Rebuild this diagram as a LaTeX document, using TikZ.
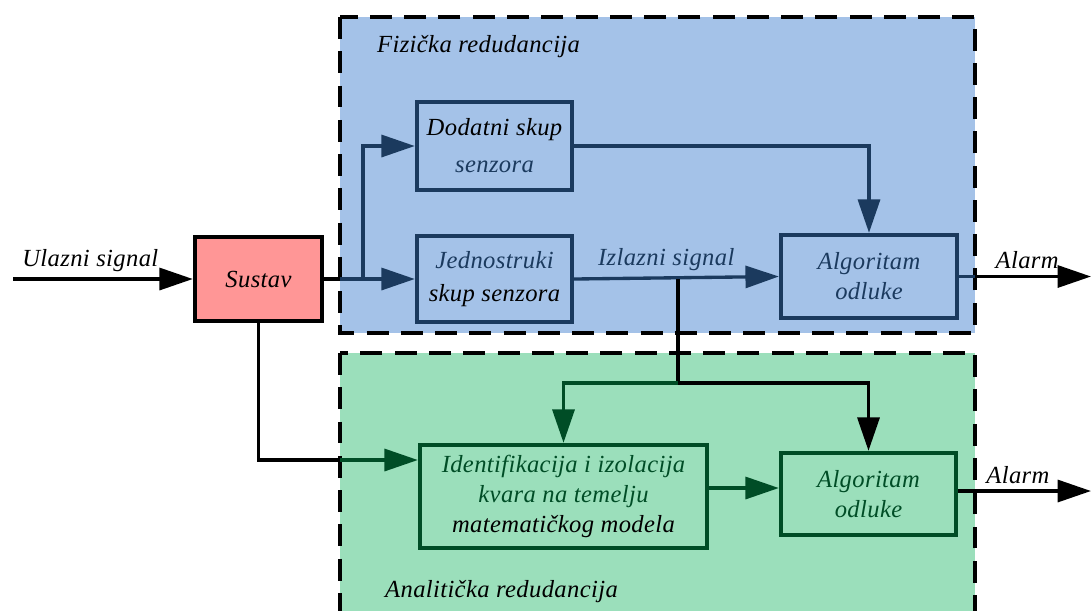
\documentclass[tikz,border=0pt]{standalone}
\usepackage{fontspec}
\setmainfont{Liberation Serif}[LetterSpace=1.5]
\usetikzlibrary{arrows.meta}
\definecolor{fizicka}{RGB}{164,194,232}
\definecolor{analiticka}{RGB}{155,223,187}
\definecolor{sustavboja}{RGB}{255,150,150}
\definecolor{plava}{RGB}{27,58,94}
\definecolor{zelena}{RGB}{0,77,38}
\tikzset{
  blok/.style={draw, line width=2.5pt, inner sep=0pt, align=center, font=\fontsize{14}{#1}\selectfont\itshape},
  blok/.default=17,
  veza/.style={line width=1.9pt, -{Triangle[length=19pt,width=12.5pt]}},
  linija/.style={line width=1.9pt},
  podrucje/.style={draw=black, line width=2.6pt, dash pattern=on 12.5pt off 7pt},
  natpis/.style={font=\fontsize{14}{17}\selectfont\itshape}
}

\begin{document}
\begin{tikzpicture}[x=0.02cm, y=-0.02cm]
    \useasboundingbox (0,0) rectangle (1091,610);
    % podrucja
    \draw[podrucje, fill=fizicka] (340,17) rectangle (975,333);
    \draw[podrucje, fill=analiticka] (340,353) rectangle (975,630);
    \node[natpis, anchor=west] (fizLabel) at (371,47) {Fizička redudancija};
    \node[natpis, anchor=west] (anaLabel) at (379,592) {Analitička redudancija};
    % blokovi
    \node[blok, fill=sustavboja, minimum width=2.54cm, minimum height=1.68cm] (sustav) at (258.5,279) {Sustav};
    \node[blok=21, draw=plava, minimum width=3.1cm, minimum height=1.76cm] (dodatni) at (494.5,146) {Dodatni skup\\\textcolor{plava}{senzora}};
    \node[blok=19, draw=plava, minimum width=3.1cm, minimum height=1.72cm] (jednostruki) at (494.5,279) {\textcolor{plava}{Jednostruki}\\skup senzora};
    \node[blok, draw=plava, text=plava, minimum width=3.52cm, minimum height=1.66cm] (odlukaF) at (869,276.5) {Algoritam\\odluke};
    \node[blok, draw=zelena, minimum width=5.74cm, minimum height=2.06cm] (identifikacija) at (563.5,496.5) {\textcolor{zelena}{Identifikacija i izolacija}\\\textcolor{zelena}{kvara na temelju}\\matematičkog modela};
    \node[blok, draw=zelena, text=zelena, minimum width=3.5cm, minimum height=1.64cm] (odlukaA) at (868.5,494) {Algoritam\\odluke};
    % tocke
    \coordinate (ulaz) at (13,279);
    \coordinate (rubF) at (340,279);
    \coordinate (grana) at (363,279);
    \coordinate (izlaz) at (678,279);
    \coordinate (spoj) at (678,383);
    \coordinate (rubA) at (340,460);
    \coordinate (sredina) at (707,488);
    \coordinate (rubAlarm) at (975,276.5);
    \coordinate (alarmF) at (1091,276.5);
    \coordinate (alarmA) at (1091,491);
    % veze
    \draw[veza] (ulaz) -- node[above, natpis, pos=0.43] {Ulazni signal} (sustav.west);
    \draw[linija] (sustav.east) -- (rubF);
    \draw[veza, plava] (rubF) -- (jednostruki.west);
    \draw[veza, plava] (grana) |- (dodatni.west);
    \draw[veza, plava] (dodatni.east) -| (odlukaF.north);
    \draw[veza, plava] (jednostruki.east) -- node[above, natpis, text=plava, pos=0.45] {Izlazni signal} (odlukaF.west);
    \draw[linija, plava] (odlukaF.east) -- (rubAlarm);
    \draw[veza] (rubAlarm) -- node[above, natpis, pos=0.45] {Alarm} (alarmF);
    \draw[linija] (izlaz) -- (spoj);
    \draw[veza, zelena] (spoj) -| (identifikacija.north);
    \draw[veza] (spoj) -| (odlukaA.north);
    \draw[linija] (sustav.south) |- (rubA);
    \draw[veza, zelena] (rubA) -- (identifikacija.west |- rubA);
    \draw[veza, zelena] (identifikacija.east |- sredina) -- (odlukaA.west |- sredina);
    \draw[veza] (odlukaA.east |- alarmA) -- node[above, natpis, pos=0.45] {Alarm} (alarmA);
\end{tikzpicture}
\end{document}
